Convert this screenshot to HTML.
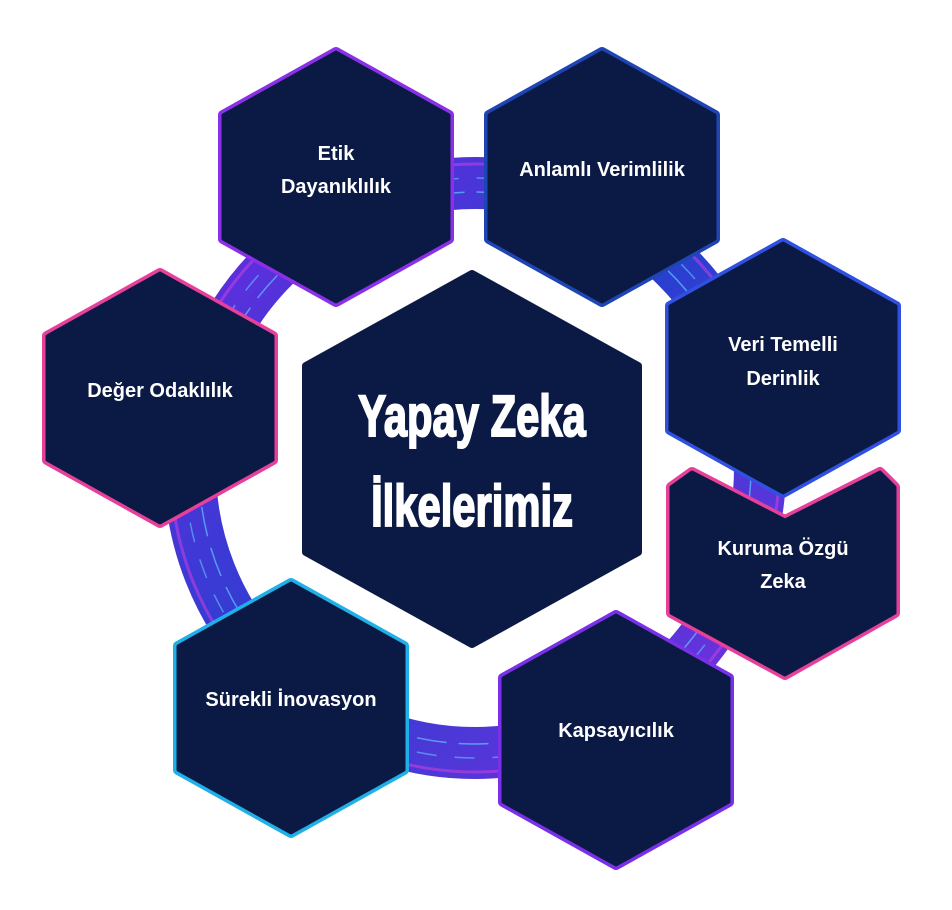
<!DOCTYPE html>
<html><head><meta charset="utf-8"><style>
html,body{margin:0;padding:0;background:#fff;width:952px;height:910px;overflow:hidden}
svg{display:block}
.t{font-family:"Liberation Sans",sans-serif;font-weight:bold;fill:#fff;font-size:20px;text-anchor:middle}
</style></head><body>
<svg width="952" height="910" viewBox="0 0 952 910" xmlns="http://www.w3.org/2000/svg">
<defs>
<linearGradient id="rg" x1="0" y1="0" x2="1" y2="1">
<stop offset="0" stop-color="#6a2be0"/><stop offset="0.5" stop-color="#2a3fd0"/><stop offset="1" stop-color="#7a2ee0"/>
</linearGradient>
<g id="hexes">
<polygon id="h1" points="336,52 449,115 449,239 336,302 223,239 223,115"/>
<polygon id="h2" points="602,52 715,115 715,239 602,302 489,239 489,115"/>
<polygon id="h3" points="783,243 896,306 896,430 783,493 670,430 670,306"/>
<polygon id="h4" points="671,487 692,472 785,520 880,472 895,487 895,613 785,675 671,613"/>
<polygon id="h5" points="616,615 729,678 729,802 616,865 503,802 503,678"/>
<polygon id="h6" points="291,583 404,646 404,770 291,833 178,770 178,646"/>
<polygon id="h7" points="160,273 273,336 273,460 160,523 47,460 47,336"/>
</g>
</defs>
<circle cx="475" cy="468" r="285" fill="none" stroke="url(#rg)" stroke-width="52"/>
<circle cx="475" cy="468" r="276" fill="none" stroke="#5fc8ff" stroke-width="1.5" stroke-dasharray="30 12" opacity="0.7"/>
<circle cx="475" cy="468" r="290" fill="none" stroke="#5fc8ff" stroke-width="1.5" stroke-dasharray="20 18" opacity="0.6"/>
<circle cx="475" cy="468" r="304" fill="none" stroke="#c040e0" stroke-width="3" opacity="0.6"/>
<g stroke-linejoin="round" stroke-width="10">
<use href="#h1" fill="#8a30e8" stroke="#8a30e8"/>
<use href="#h1" fill="#0b1a45" stroke="#0b1a45" stroke-width="3"/>
<use href="#h2" fill="#1f45b5" stroke="#1f45b5"/>
<use href="#h2" fill="#0b1a45" stroke="#0b1a45" stroke-width="3"/>
<use href="#h3" fill="#2f50e0" stroke="#2f50e0"/>
<use href="#h3" fill="#0b1a45" stroke="#0b1a45" stroke-width="3"/>
<use href="#h4" fill="#e8409a" stroke="#e8409a"/>
<use href="#h4" fill="#0b1a45" stroke="#0b1a45" stroke-width="3"/>
<use href="#h5" fill="#7a30e8" stroke="#7a30e8"/>
<use href="#h5" fill="#0b1a45" stroke="#0b1a45" stroke-width="3"/>
<use href="#h6" fill="#20b0e8" stroke="#20b0e8"/>
<use href="#h6" fill="#0b1a45" stroke="#0b1a45" stroke-width="3"/>
<use href="#h7" fill="#e8409a" stroke="#e8409a"/>
<use href="#h7" fill="#0b1a45" stroke="#0b1a45" stroke-width="3"/>
<polygon fill="#0b1a45" stroke="#0b1a45" stroke-width="8" points="472,274 638,366 638,552 472,644 306,552 306,366"/>
</g>
<text class="t" x="336" y="160">Etik</text>
<text class="t" x="336" y="193">Dayanıklılık</text>
<text class="t" x="602" y="176">Anlamlı Verimlilik</text>
<text class="t" x="783" y="351">Veri Temelli</text>
<text class="t" x="783" y="385">Derinlik</text>
<text class="t" x="783" y="555">Kuruma Özgü</text>
<text class="t" x="783" y="588">Zeka</text>
<text class="t" x="616" y="737">Kapsayıcılık</text>
<text class="t" x="291" y="706">Sürekli İnovasyon</text>
<text class="t" x="160" y="397">Değer Odaklılık</text>
<g transform="translate(472,0) scale(0.72,1)" font-family="Liberation Sans,sans-serif" font-weight="bold" font-size="58" fill="#fff" stroke="#fff" stroke-width="2" text-anchor="middle">
<text x="0" y="436">Yapay Zeka</text>
<text x="0" y="526">İlkelerimiz</text>
</g>
</svg>
</body></html>
